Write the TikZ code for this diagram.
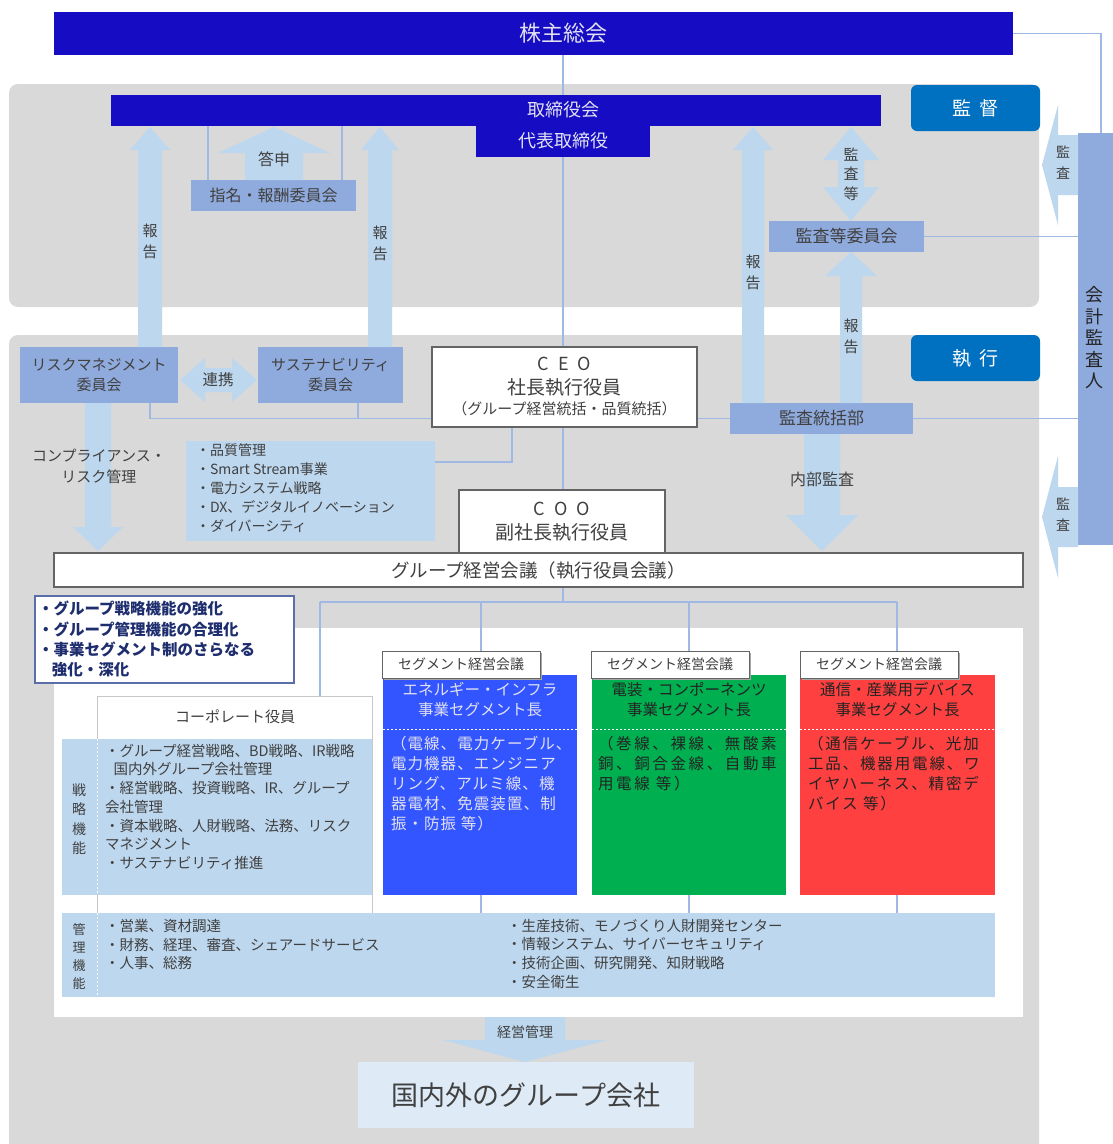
\documentclass[tikz,border=0pt]{standalone}
\usepackage{fontspec}
\setmainfont{Noto Sans CJK JP}
\usetikzlibrary{calc}
\definecolor{navy}{RGB}{22,12,196}
\definecolor{kbl}{RGB}{0,112,192}
\definecolor{midb}{RGB}{143,170,220}
\definecolor{lb}{RGB}{189,215,238}
\definecolor{pale}{RGB}{222,235,247}
\definecolor{pgray}{RGB}{217,217,217}
\definecolor{linec}{RGB}{160,185,228}
\definecolor{txt}{RGB}{64,64,64}
\definecolor{ltxt}{RGB}{225,225,240}
\definecolor{dtxt}{RGB}{35,35,35}
\definecolor{bord}{RGB}{100,100,100}
\definecolor{cbord}{RGB}{200,200,200}
\definecolor{bbord}{RGB}{90,110,170}
\definecolor{bnavy}{RGB}{30,45,110}
\definecolor{sblue}{RGB}{51,85,255}
\definecolor{sgreen}{RGB}{0,176,80}
\definecolor{sred}{RGB}{255,64,64}
\newcommand{\fz}[2]{\fontsize{#1}{#2}\selectfont}
\newcommand{\BAv}[6]{\fill[lb] (#1,#2) -- (#1+#6,#3) -- (#1+#5,#3) -- (#1+#5,#4) -- (#1-#5,#4) -- (#1-#5,#3) -- (#1-#6,#3) -- cycle;}
\newcommand{\BAh}[6]{\fill[lb] (#2,#1) -- (#3,#1-#6) -- (#3,#1-#5) -- (#4,#1-#5) -- (#4,#1+#5) -- (#3,#1+#5) -- (#3,#1+#6) -- cycle;}
\newcommand{\BAvv}[7]{\fill[lb] (#1,#2) -- (#1+#7,#3) -- (#1+#6,#3) -- (#1+#6,#4) -- (#1+#7,#4) -- (#1,#5) -- (#1-#7,#4) -- (#1-#6,#4) -- (#1-#6,#3) -- (#1-#7,#3) -- cycle;}
\newcommand{\BAhh}[7]{\fill[lb] (#2,#1) -- (#3,#1-#7) -- (#3,#1-#6) -- (#4,#1-#6) -- (#4,#1-#7) -- (#5,#1) -- (#4,#1+#7) -- (#4,#1+#6) -- (#3,#1+#6) -- (#3,#1+#7) -- cycle;}
\pgfdeclarelayer{panel}
\pgfdeclarelayer{bg}
\pgfsetlayers{panel,bg,main}
\begin{document}
\begin{tikzpicture}[x=1pt,y=-1pt,
  every node/.style={inner sep=0pt, outer sep=0pt, text=txt},
  rect/.style 2 args={minimum width=#1pt, minimum height=#2pt},
  lnk/.style={draw=linec, line width=1.1pt},
  vtxt/.style={align=center, font=\fz{15}{21}},
  wdash/.style={draw=white, dashed, line width=1pt, dash pattern=on 2pt off 2pt},
  seglab/.style={fill=white, draw=bord, line width=1pt, rect={158}{27}, font=\fz{14}{16}},
  shad/.style={fill=black!35}
]
\useasboundingbox (0,0) rectangle (1113,1144);
\begin{pgfonlayer}{panel}
  \fill[white] (0,0) rectangle (1113,1144);
  \fill[pgray, rounded corners=9pt] (9,84) rectangle (1039,307);
  \fill[pgray, rounded corners=9pt] (9,335) rectangle (1039,1170);
  \fill[white] (54,628) rectangle (1023,1017);
\end{pgfonlayer}

% ---------- top ----------
\node[fill=navy, rect={959}{43}] (kabu) at (533.5,33.5) {};
\node[text=ltxt, font=\fz{22}{26}] (kabuT) at (563,33) {株主総会};
\node[fill=navy, rect={770}{31}] (tori) at (496,110.5) {};
\node[fill=navy, rect={174}{31}] (daihyo) at (563,141.5) {};
\node[text=ltxt, font=\fz{18}{22}] (toriT) at (563,110) {取締役会};
\node[text=ltxt, font=\fz{18}{22}] (daihyoT) at (563,141) {代表取締役};
\node[fill=kbl, rounded corners=6pt, rect={129}{46}, text=white, font=\fz{19}{22}] (kantoku) at (975.5,108) {監\hspace{0.45em}督};
\node[fill=midb, rect={35}{412}] (kaikei) at (1095.5,339) {};
\node[align=center, font=\fz{18}{21.5}, text=dtxt] (kaikeiT) at (1094,338) {会\\計\\監\\査\\人};
\node[fill=midb, rect={165}{31}, font=\fz{16}{20}] (shimei) at (273.5,195.5) {指名・報酬委員会};
\node[fill=midb, rect={155}{31}, font=\fz{17}{20}] (kansaiin) at (846.5,236.5) {監査等委員会};

% ---------- lower ----------
\node[fill=kbl, rounded corners=6pt, rect={129}{46}, text=white, font=\fz{19}{22}] (shikko) at (975.5,358) {執\hspace{0.45em}行};
\node[fill=midb, rect={158}{56}, align=center, font=\fz{15}{20}] (risk) at (99,375) {リスクマネジメント\\委員会};
\node[fill=midb, rect={145}{56}, align=center, font=\fz{15}{20}] (sust) at (330.5,375) {サステナビリティ\\委員会};
\node[fill=white, draw=bord, line width=1.2pt, rect={265}{80}] (ceo) at (564.5,387) {};
\node[font=\fz{18}{20}] (ceoA) at (564.5,364) {C\hspace{0.5em}E\hspace{0.5em}O};
\node[font=\fz{19}{22}] (ceoB) at (564.5,387) {社長執行役員};
\node[font=\fz{15}{18}] (ceoC) at (564.5,409) {（グループ経営統括・品質統括）};
\node[fill=midb, rect={183}{31}, font=\fz{17}{20}] (kansabu) at (821.5,418.5) {監査統括部};
\node[fill=lb, rect={249}{100}] (info) at (310.5,491) {};
\node[anchor=north west, align=left, font=\fz{14}{18.8}] (infoT) at (196,444) {・品質管理\\・Smart Stream事業\\・電力システム戦略\\・DX、デジタルイノベーション\\・ダイバーシティ};
\node[fill=white, draw=bord, line width=1.2pt, rect={206}{63}] (coo) at (562,521.5) {};
\node[font=\fz{18}{20}] (cooA) at (562,509) {C\hspace{0.5em}O\hspace{0.5em}O};
\node[font=\fz{19}{22}] (cooB) at (562,532) {副社長執行役員};
\node[fill=white, draw=bord, line width=1.2pt, rect={969}{34}, font=\fz{18.5}{22}] (gm) at (538.5,570) {グループ経営会議（執行役員会議）};

% goals box
\node[fill=white, draw=bbord, line width=1.2pt, rect={259}{87}] (goal) at (164.5,639.5) {};
\node[anchor=north west, align=left, font=\bfseries\fz{15.5}{20.4}, text=bnavy] (goalT) at (38,601) {・グループ戦略機能の強化\\・グループ管理機能の合理化\\・事業セグメント制のさらなる\\\hspace{0.9em}強化・深化};

% corporate
\node[fill=white, draw=cbord, line width=1pt, rect={275}{217}] (corp) at (234.5,804.5) {};
\node[font=\fz{15}{18}] (corpT) at (235,717) {コーポレート役員};
\node[fill=lb, rect={310}{156}] (senr) at (217,817) {};
\draw[wdash] (senr.north west) ++(35,0) -- ++(0,156);
\node[align=center, font=\fz{14}{19.5}] (senrL) at (79,819) {戦\\略\\機\\能};
\node[anchor=north west, align=left, font=\fz{14.5}{18.7}] (senrT) at (105,744) {・グループ経営戦略、BD戦略、IR戦略\\\hspace{0.6em}国内外グループ会社管理\\・経営戦略、投資戦略、IR、グループ\\会社管理\\・資本戦略、人財戦略、法務、リスク\\マネジメント\\・サステナビリティ推進};

% segments
\node[fill=sblue, rect={194}{220}] (segE) at (480,785) {};
\node[fill=sgreen, rect={194}{220}] (segD) at (689,785) {};
\node[fill=sred, rect={195}{220}] (segT) at (897.5,785) {};
\draw[wdash] (segE.west |- 0,729) -- (segE.east |- 0,729);
\draw[wdash] (segD.west |- 0,729) -- (segD.east |- 0,729);
\draw[wdash] (segT.west |- 0,729) -- (segT.east |- 0,729);
\fill[shad] (384,653) rectangle (542,680);
\fill[shad] (593,653) rectangle (751,680);
\fill[shad] (802,653) rectangle (960,680);
\node[seglab] (lab1) at (461,664.5) {セグメント経営会議};
\node[seglab] (lab2) at (670,664.5) {セグメント経営会議};
\node[seglab] (lab3) at (879,664.5) {セグメント経営会議};
\node[align=center, font=\fz{15.5}{20}, text=ltxt] (segEt) at (480,700) {エネルギー・インフラ\\事業セグメント長};
\node[align=center, font=\fz{15.5}{20}, text=dtxt] (segDt) at (689,700) {電装・コンポーネンツ\\事業セグメント長};
\node[align=center, font=\fz{15.5}{20}, text=dtxt] (segTt) at (897.5,700) {通信・産業用デバイス\\事業セグメント長};
\node[anchor=north west, align=left, font={\fz{15.5}{20}\addfontfeatures{LetterSpace=7}}, text=ltxt] (segEb) at (391,736) {（電線、電力ケーブル、\\電力機器、エンジニア\\リング、アルミ線、機\\器電材、免震装置、制\\振・防振 等）};
\node[anchor=north west, align=left, font={\fz{15.5}{20}\addfontfeatures{LetterSpace=17}}, text=dtxt] (segDb) at (598,736) {（巻線、裸線、無酸素\\銅、銅合金線、自動車\\用電線 等）};
\node[anchor=north west, align=left, font={\fz{15.5}{20}\addfontfeatures{LetterSpace=12}}, text=dtxt] (segTb) at (808,736) {（通信ケーブル、光加\\工品、機器用電線、ワ\\イヤハーネス、精密デ\\バイス 等）};

% kanri band
\node[fill=lb, rect={933}{84}] (kanri) at (528.5,955) {};
\draw[wdash] (kanri.north west) ++(35,0) -- ++(0,84);
\node[align=center, font=\fz{13}{18}] (kanriL) at (79,957) {管\\理\\機\\能};
\node[anchor=north west, align=left, font=\fz{14.5}{18.8}] (kanriT1) at (105,919) {・営業、資材調達\\・財務、経理、審査、シェアードサービス\\・人事、総務};
\node[anchor=north west, align=left, font=\fz{14.5}{18.8}] (kanriT2) at (507,919) {・生産技術、モノづくり人財開発センター\\・情報システム、サイバーセキュリティ\\・技術企画、研究開発、知財戦略\\・安全衛生};

% group companies
\node[fill=pale, rect={336}{66}, font=\fz{27}{30}] (gco) at (526,1095) {国内外のグループ会社};

% ---------- block arrows ----------
\BAv{150}{127}{150}{347}{12}{20}
\BAv{380}{127}{150}{347}{12}{19}
\BAv{274}{127}{153}{180}{29}{56}
\BAv{753}{127}{150}{403}{11}{20}
\BAvv{851}{127}{160}{187}{221}{13}{28}
\BAv{851}{252}{276}{403}{11}{26}
\BAhh{380}{180}{205}{232}{257}{12}{22}
\BAv{98}{551}{527}{403}{13}{25}
\BAv{822}{551}{515}{434}{18}{36}
\BAh{165}{1042}{1058}{1078}{30}{60}
\BAh{517}{1042}{1058}{1078}{30}{61}
\BAv{525}{1062}{1040}{1017}{40}{82}
\node[font=\fz{15}{21}, align=center] (compT) at (99,466) {コンプライアンス・\\リスク管理};
\node[vtxt] (r1) at (150,241) {報\\告};
\node[vtxt] (r2) at (380,243) {報\\告};
\node[vtxt] (r3) at (753,272) {報\\告};
\node[vtxt] (r4) at (851,336) {報\\告};
\node[vtxt, font=\fz{15}{19.5}] (kt) at (851,174) {監\\査\\等};
\node[font=\fz{16}{20}] (toshin) at (274,159) {答申};
\node[font=\fz{15.5}{20}] (renkei) at (218,380) {連携};
\node[font=\fz{16}{20}] (naibu) at (822,479) {内部監査};
\node[vtxt, font=\fz{14}{21}] (k1) at (1063,163) {監\\査};
\node[vtxt, font=\fz{14}{21}] (k2) at (1063,515) {監\\査};
\node[font=\fz{14}{18}] (keiei) at (525,1032) {経営管理};

% ---------- connector lines ----------
\begin{pgfonlayer}{bg}
  \draw[lnk] (kabu.east) -| ($(kaikei.north)+(5.5,0)$);
  \draw[lnk] (daihyo.south |- kabu.south) -- (daihyo.south |- coo.north);
  \draw[lnk] (kansaiin.east) -- (kansaiin.east -| kaikei.west);
  \draw[lnk] (kansabu.east) -- (kansabu.east -| kaikei.west);
  \draw[lnk] (ceo.east |- kansabu.west) -- (kansabu.west);
  \draw[lnk] ($(risk.south east)+(-28,0)$) |- (ceo.west |- kansabu.west);
  \draw[lnk] ($(sust.south west)+(100,0)$) -- ++(0,15);
  \draw[lnk] (shimei.north west |- tori.south) ++(17,0) -- ++(0,54);
  \draw[lnk] (shimei.north east |- tori.south) ++(-14,0) -- ++(0,54);
  \draw[lnk] ($(info.north east)+(0,21)$) -| ($(ceo.south west)+(80,0)$);
  \coordinate (busc) at (563,602);
  \coordinate (busl) at (320,602);
  \coordinate (busr) at (897,602);
  \draw[lnk] (daihyo.south |- gm.south) -- (busc);
  \draw[lnk] (busl) -- (busr);
  \draw[lnk] (busl) -- (busl |- corp.north);
  \draw[lnk] (busc -| lab1.north) ++(20,0) -- ++(0,311);
  \draw[lnk] (689,602) -- (689,913);
  \draw[lnk] (busr) -- (897,913);
\end{pgfonlayer}
\end{tikzpicture}
\end{document}
